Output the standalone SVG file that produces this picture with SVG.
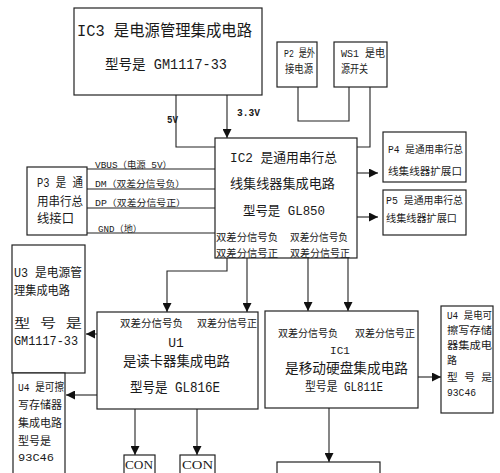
<svg xmlns="http://www.w3.org/2000/svg" width="500" height="473" viewBox="0 0 500 473">
<style>
.box{fill:#fff;stroke:#222;stroke-width:1.2}
.ln{fill:none;stroke:#222;stroke-width:1.1}
text{font-family:"Liberation Mono","Noto Sans CJK SC",monospace;fill:#1a1a1a}
.t16{font-size:16px}
.t14{font-size:14px}
.t13{font-size:13px}
.t12{font-size:12px}
.t11{font-size:11px}
.t10{font-size:10px}
.t9{font-size:9px}
.con{font-family:"Liberation Serif",serif;font-size:12px}
</style>
<defs>
<marker id="ah" viewBox="0 0 10 10" refX="10" refY="5" markerWidth="9" markerHeight="9" markerUnits="userSpaceOnUse" orient="auto">
<path d="M0,0 L10,5 L0,10 z" fill="#111"/>
</marker>
</defs>

<g id="connectors">
<polyline class="ln" points="176,95 176,147 370,147 370,87"/>
<polyline class="ln" points="298,87 298,121 349,121 349,87"/>
<line class="ln" x1="227" y1="95" x2="227" y2="138" marker-end="url(#ah)"/>
<line class="ln" x1="87" y1="169" x2="215" y2="169"/>
<line class="ln" x1="87" y1="189" x2="215" y2="189"/>
<line class="ln" x1="87" y1="208" x2="215" y2="208"/>
<line class="ln" x1="87" y1="233" x2="215" y2="233"/>
<line class="ln" x1="357" y1="173" x2="378" y2="173" marker-end="url(#ah)"/>
<line class="ln" x1="357" y1="217" x2="378" y2="217" marker-end="url(#ah)"/>
<polyline class="ln" points="227,258 227,271 167,271 167,312" marker-end="url(#ah)"/>
<line class="ln" x1="247" y1="258" x2="247" y2="312" marker-end="url(#ah)"/>
<line class="ln" x1="308" y1="258" x2="308" y2="311" marker-end="url(#ah)"/>
<line class="ln" x1="348" y1="258" x2="348" y2="311" marker-end="url(#ah)"/>
<line class="ln" x1="97" y1="334" x2="86" y2="334" marker-end="url(#ah)"/>
<line class="ln" x1="97" y1="395" x2="66" y2="395" marker-end="url(#ah)"/>
<line class="ln" x1="135" y1="409" x2="135" y2="455" marker-end="url(#ah)"/>
<line class="ln" x1="197" y1="409" x2="197" y2="455" marker-end="url(#ah)"/>
<line class="ln" x1="418" y1="377" x2="441" y2="377" marker-end="url(#ah)"/>
<line class="ln" x1="329" y1="408" x2="329" y2="462" marker-end="url(#ah)"/>
<text class="t10" x="237" y="116" textLength="23" lengthAdjust="spacingAndGlyphs" font-weight="bold">3.3V</text>
<text class="t10" x="167" y="123" textLength="11" lengthAdjust="spacingAndGlyphs" font-weight="bold">5V</text>
<text class="t9" x="95" y="168" textLength="77" lengthAdjust="spacingAndGlyphs">VBUS（电源 5V）</text>
<text class="t9" x="95" y="187" textLength="90" lengthAdjust="spacingAndGlyphs">DM（双差分信号负）</text>
<text class="t9" x="95" y="206" textLength="91" lengthAdjust="spacingAndGlyphs">DP（双差分信号正）</text>
<text class="t9" x="98" y="232" textLength="44" lengthAdjust="spacingAndGlyphs">GND（地）</text>
</g>

<g id="IC3">
<rect class="box" x="74" y="8" width="188" height="87"/>
<text class="t16" x="77" y="36" textLength="175" lengthAdjust="spacingAndGlyphs">IC3 是电源管理集成电路</text>
<text class="t14" x="105" y="69" textLength="122" lengthAdjust="spacingAndGlyphs">型号是 GM1117-33</text>
</g>

<g id="P2">
<rect class="box" x="277" y="42" width="40" height="45"/>
<text class="t11" x="284" y="57" textLength="31" lengthAdjust="spacingAndGlyphs">P2 是外</text>
<text class="t11" x="285" y="73" textLength="28" lengthAdjust="spacingAndGlyphs">接电源</text>
</g>

<g id="WS1">
<rect class="box" x="334" y="42" width="53" height="45"/>
<text class="t11" x="341" y="57" textLength="44" lengthAdjust="spacingAndGlyphs">WS1 是电</text>
<text class="t11" x="341" y="73" textLength="27" lengthAdjust="spacingAndGlyphs">源开关</text>
</g>

<g id="P3">
<rect class="box" x="27" y="167" width="60" height="68"/>
<text class="t12" x="37" y="187" textLength="46" lengthAdjust="spacingAndGlyphs">P3 是 通</text>
<text class="t12" x="37" y="206" textLength="46" lengthAdjust="spacingAndGlyphs">用串行总</text>
<text class="t12" x="37" y="223" textLength="37" lengthAdjust="spacingAndGlyphs">线接口</text>
</g>

<g id="IC2">
<rect class="box" x="215" y="138" width="142" height="120"/>
<text class="t13" x="230" y="162" textLength="107" lengthAdjust="spacingAndGlyphs">IC2 是通用串行总</text>
<text class="t13" x="230" y="188" textLength="105" lengthAdjust="spacingAndGlyphs">线集线器集成电路</text>
<text class="t13" x="243" y="215" textLength="82" lengthAdjust="spacingAndGlyphs">型号是 GL850</text>
<text class="t10" x="216" y="241" textLength="62" lengthAdjust="spacingAndGlyphs">双差分信号负</text>
<text class="t10" x="290" y="241" textLength="58" lengthAdjust="spacingAndGlyphs">双差分信号负</text>
<text class="t10" x="216" y="257" textLength="62" lengthAdjust="spacingAndGlyphs">双差分信号正</text>
<text class="t10" x="290" y="257" textLength="60" lengthAdjust="spacingAndGlyphs">双差分信号正</text>
</g>

<g id="P4">
<rect class="box" x="383" y="132" width="83" height="50"/>
<text class="t10" x="388" y="153" textLength="75" lengthAdjust="spacingAndGlyphs">P4 是通用串行总</text>
<text class="t10" x="388" y="175" textLength="74" lengthAdjust="spacingAndGlyphs">线集线器扩展口</text>
</g>

<g id="P5">
<rect class="box" x="383" y="190" width="83" height="45"/>
<text class="t10" x="386" y="204" textLength="77" lengthAdjust="spacingAndGlyphs">P5 是通用串行总</text>
<text class="t10" x="386" y="222" textLength="71" lengthAdjust="spacingAndGlyphs">线集线器扩展口</text>
</g>

<g id="U3">
<rect class="box" x="12" y="245" width="73" height="128"/>
<text class="t12" x="14" y="277" textLength="68" lengthAdjust="spacingAndGlyphs">U3 是电源管</text>
<text class="t12" x="14" y="295" textLength="56" lengthAdjust="spacingAndGlyphs">理集成电路</text>
<text class="t12" x="14" y="328" textLength="68" lengthAdjust="spacingAndGlyphs">型    号 是</text>
<text class="t12" x="14" y="345" textLength="64" lengthAdjust="spacingAndGlyphs">GM1117-33</text>
</g>

<g id="U1">
<rect class="box" x="97" y="312" width="161" height="97"/>
<text class="t10" x="120" y="327" textLength="63" lengthAdjust="spacingAndGlyphs">双差分信号负</text>
<text class="t10" x="197" y="327" textLength="60" lengthAdjust="spacingAndGlyphs">双差分信号正</text>
<text class="t13" x="176" y="347" text-anchor="middle">U1</text>
<text class="t14" x="123" y="366" textLength="107" lengthAdjust="spacingAndGlyphs">是读卡器集成电路</text>
<text class="t14" x="130" y="392" textLength="90" lengthAdjust="spacingAndGlyphs">型号是 GL816E</text>
</g>

<g id="IC1">
<rect class="box" x="265" y="311" width="153" height="97"/>
<text class="t10" x="278" y="337" textLength="60" lengthAdjust="spacingAndGlyphs">双差分信号负</text>
<text class="t10" x="355" y="337" textLength="60" lengthAdjust="spacingAndGlyphs">双差分信号正</text>
<text class="t11" x="340" y="354" text-anchor="middle">IC1</text>
<text class="t14" x="285" y="373" textLength="123" lengthAdjust="spacingAndGlyphs">是移动硬盘集成电路</text>
<text class="t12" x="305" y="391" textLength="78" lengthAdjust="spacingAndGlyphs">型号是 GL811E</text>
</g>

<g id="U4R">
<rect class="box" x="441" y="306" width="52" height="107"/>
<text class="t10" x="447" y="319" textLength="45" lengthAdjust="spacingAndGlyphs">U4 是电可</text>
<text class="t10" x="447" y="334" textLength="45" lengthAdjust="spacingAndGlyphs">擦写存储</text>
<text class="t10" x="447" y="349" textLength="45" lengthAdjust="spacingAndGlyphs">器集成电</text>
<text class="t10" x="447" y="364">路</text>
<text class="t10" x="447" y="381" textLength="45" lengthAdjust="spacingAndGlyphs">型  号  是</text>
<text class="t10" x="447" y="396" textLength="29" lengthAdjust="spacingAndGlyphs">93C46</text>
</g>

<g id="U4L">
<rect class="box" x="13" y="373" width="52" height="110"/>
<text class="t11" x="18" y="391" textLength="46" lengthAdjust="spacingAndGlyphs">U4 是可擦</text>
<text class="t11" x="18" y="409" textLength="44" lengthAdjust="spacingAndGlyphs">写存储器</text>
<text class="t11" x="18" y="427" textLength="44" lengthAdjust="spacingAndGlyphs">集成电路</text>
<text class="t11" x="18" y="445" textLength="33" lengthAdjust="spacingAndGlyphs">型号是</text>
<text class="t11" x="18" y="461" textLength="36" lengthAdjust="spacingAndGlyphs">93C46</text>
</g>

<g id="CON1">
<rect class="box" x="124" y="455" width="31" height="30"/>
<text class="con" x="125" y="469" textLength="28" lengthAdjust="spacingAndGlyphs">CON</text>
</g>

<g id="CON2">
<rect class="box" x="180" y="455" width="35" height="30"/>
<text class="con" x="182" y="469" textLength="31" lengthAdjust="spacingAndGlyphs">CON</text>
</g>

<g id="BOTTOM">
<rect class="box" x="277" y="462" width="103" height="30"/>
</g>
</svg>
